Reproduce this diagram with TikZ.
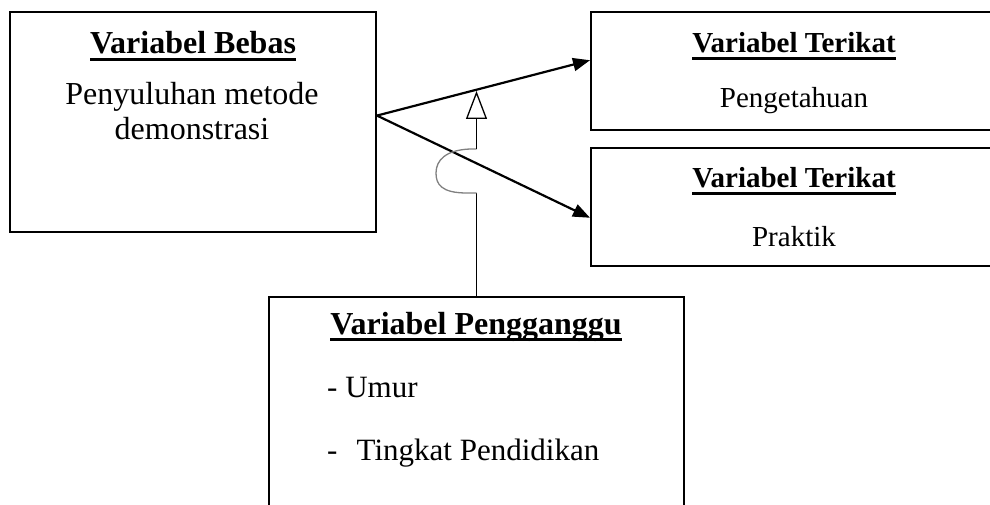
\documentclass[tikz,border=0pt]{standalone}
\usepackage{fontspec}
\setmainfont{Liberation Serif}
\usetikzlibrary{arrows.meta}

\newcommand{\headline}[1]{\setbox0=\hbox{#1}\rlap{\rule[-7pt]{\wd0}{2.6pt}}\box0}

\begin{document}
\begin{tikzpicture}[x=1pt,y=-1pt,
  box/.style={draw,line width=2pt,rectangle,inner sep=0pt},
  head/.style={font=\fontsize{#1}{#1}\selectfont\bfseries,anchor=base,inner sep=0pt},
  body/.style={font=\fontsize{#1}{#1}\selectfont,anchor=base,inner sep=0pt},
  arr/.style={line width=2.2pt,-{Triangle[length=17pt,width=13pt]}},
  link/.style={line width=1.3pt},
  hop/.style={line width=1.3pt,gray}]

\useasboundingbox (0,0) rectangle (990,505);

\node [box,minimum width=366pt,minimum height=220pt] (bebas) at (193,122) {};
\node [head=32] (bebasH) at (193,54) {\headline{Variabel Bebas}};
\node [body=32] (bebasA) at (192,105) {Penyuluhan metode};
\node [body=32] (bebasB) at (192,140) {demonstrasi};

\node [box,minimum width=409pt,minimum height=118pt] (tahu) at (795.5,71) {};
\node [head=29] (tahuH) at (794,53) {\headline{Variabel Terikat}};
\node [body=29] (tahuA) at (794,108) {Pengetahuan};

\node [box,minimum width=409pt,minimum height=118pt] (praktik) at (795.5,207) {};
\node [head=29] (praktikH) at (794,188) {\headline{Variabel Terikat}};
\node [body=29] (praktikA) at (794,246) {Praktik};

\node [box,minimum width=415pt,minimum height=223pt] (ganggu) at (476.5,408.5) {};
\node [head=32] (gangguH) at (476,334) {\headline{Variabel Pengganggu}};
\node [body=31,anchor=base west] (umur) at (327,397) {- Umur};
\node [body=31,anchor=base west] (didik) at (327,460) {-\hspace{0.62em}Tingkat Pendidikan};

\draw[arr] (bebas.2) -- (tahu.177);
\draw[arr] (bebas.2) -- (praktik.183);

\coordinate (hopB) at (476.5,193);
\coordinate (hopT) at (476.5,149);
\coordinate (tip) at (476.5,91);

\draw[link] (ganggu.north) -- (hopB);
\draw[hop] (hopB) -- (467,193) .. controls (441,193) and (436,184) .. (436,173)
  .. controls (436,160) and (446,150) .. (470,149) -- (hopT);
\draw[link,-{Triangle[open,length=28pt,width=21pt]}] (hopT) -- (tip);

\end{tikzpicture}
\end{document}
